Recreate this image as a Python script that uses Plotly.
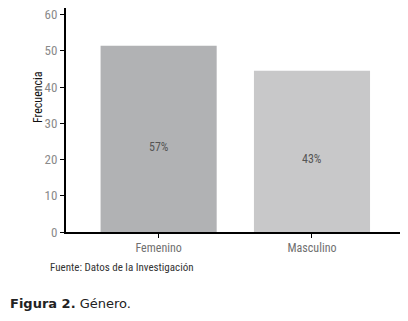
import plotly.graph_objects as go

categories = ["Femenino", "Masculino"]
frecuencia = [51.4, 44.5]
porcentajes = ["57%", "43%"]
bar_colors = ["#b1b2b4", "#c8c8c9"]
y_ticks = [0, 10, 20, 30, 40, 50, 60]

NARROW = "Liberation Sans Narrow, Arial Narrow, Roboto Condensed, Liberation Sans, sans-serif"

PW, PH = 340, 224  # plot area size in px

fig = go.Figure(go.Bar(
    x=categories, y=frecuencia,
    marker=dict(color=bar_colors, line=dict(width=0)),
    width=0.757,
))

label_annotations = [
    dict(x=c, y=v / 2, xref="x", yref="y", text=t, showarrow=False, yshift=-8,
         font=dict(family=NARROW, size=12, color="#555555"))
    for c, v, t in zip(categories, frecuencia, porcentajes)
]

fig.update_layout(
    width=400, height=313,
    margin=dict(l=58, r=2, t=0, b=89, pad=0),
    paper_bgcolor="white", plot_bgcolor="white",
    showlegend=False,
    xaxis=dict(range=[-0.604, 1.613], showline=True, linecolor="black", linewidth=2,
               ticks="outside", ticklen=4, tickcolor="black", tickwidth=1,
               tickfont=dict(family=NARROW, size=12, color="#707070"),
               showgrid=False, zeroline=False, automargin=False),
    yaxis=dict(range=[0, 61.84], tickvals=y_ticks, showline=True, linecolor="black", linewidth=2,
               ticks="outside", ticklen=4, tickcolor="black", tickwidth=1,
               tickfont=dict(family=NARROW, size=13, color="#8a8a8a"),
               ticklabeloverflow="allow",
               showgrid=False, zeroline=False, automargin=False),
    annotations=label_annotations + [
        dict(text="Frecuencia", xref="paper", yref="paper", textangle=-90,
             x=(30 - 58) / PW, y=1 - 89 / PH, xanchor="center", yanchor="middle",
             showarrow=False, font=dict(family=NARROW, size=12, color="#111111")),
        dict(text="Fuente: Datos de la Investigación", xref="paper", yref="paper",
             x=(40 - 58) / PW, y=-35 / PH, xanchor="left", yanchor="middle",
             showarrow=False, font=dict(family=NARROW, size=11, color="#333333")),
        dict(text="<b>Figura 2.</b> Género.", xref="paper", yref="paper",
             x=-58 / PW, y=-71 / PH, xanchor="left", yanchor="middle",
             showarrow=False, font=dict(family="DejaVu Sans, Verdana, sans-serif", size=13, color="#222222")),
    ],
)

fig.write_html("out.html")
